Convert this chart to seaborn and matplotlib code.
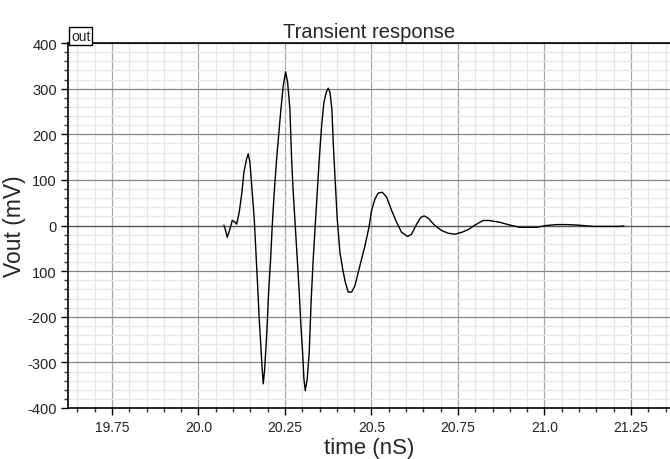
import numpy as np
import pandas as pd
import seaborn as sns
import matplotlib.pyplot as plt
from matplotlib.ticker import MultipleLocator, FixedLocator

# waveform (time in nS, Vout in mV)
time_ns = [20.0737, 20.0775, 20.0833, 20.0910, 20.0977, 20.1046, 20.1104, 20.1179,
           20.1257, 20.1315, 20.1393, 20.1439, 20.1488, 20.1555, 20.1613, 20.1662,
           20.1711, 20.1757, 20.1798, 20.1835, 20.1873, 20.1914, 20.1971, 20.2029,
           20.2087, 20.2133, 20.2191, 20.2260, 20.2318, 20.2384, 20.2451, 20.2520,
           20.2578, 20.2644, 20.2693, 20.2740, 20.2798, 20.2856, 20.2913, 20.2962,
           20.3011, 20.3049, 20.3087, 20.3145, 20.3202, 20.3260, 20.3318, 20.3376,
           20.3434, 20.3492, 20.3561, 20.3627, 20.3694, 20.3751, 20.3801, 20.3858,
           20.3896, 20.3945, 20.4012, 20.4090, 20.4168, 20.4244, 20.4329, 20.4428,
           20.4523, 20.4618, 20.4717, 20.4812, 20.4928, 20.5005, 20.5101, 20.5197,
           20.5312, 20.5439, 20.5584, 20.5728, 20.5873, 20.6046, 20.6162, 20.6306,
           20.6430, 20.6526, 20.6642, 20.6835, 20.7029, 20.7220, 20.7413, 20.7607,
           20.7798, 20.7991, 20.8231, 20.8400, 20.8710, 20.9000, 20.9290, 20.9770,
           21.0060, 21.0350, 21.0640, 21.0930, 21.1410, 21.1890, 21.2180, 21.2300]
vout_mv = [1, -8, -26, -8, 11, 8, 3, 29,
           73, 117, 146, 157, 139, 73, 14, -59,
           -132, -205, -256, -307, -347, -315, -242, -146,
           -73, 0, 73, 146, 197, 255, 306, 337,
           314, 255, 146, 73, 0, -73, -146, -220,
           -278, -336, -362, -336, -278, -161, -73, 0,
           73, 146, 219, 270, 292, 301, 292, 255,
           182, 109, 14, -59, -95, -124, -146, -146,
           -132, -103, -73, -45, -4, 33, 58, 71,
           73, 62, 33, 7, -15, -24, -19, 3,
           18, 21, 16, 0, -11, -17, -19, -15,
           -9, 1, 11, 11, 7, 1, -4, -4,
           0, 2, 2, 1, -2, -2, -2, -1]

y_ticks = [-400, -300, -200, -100, 0, 100, 200, 300, 400]
y_labels = ["-400", "-300", "-200", "100", "0", "100", "200", "300", "400"]
x_ticks = [19.75, 20.0, 20.25, 20.5, 20.75, 21.0, 21.25]
x_labels = ["19.75", "20.0", "20.25", "20.5", "20.75", "21.0", "21.25"]

df = pd.DataFrame({"t": time_ns, "v": vout_mv})

sns.set_style("white")
plt.rcParams['font.family'] = ['Liberation Sans', 'DejaVu Sans']

fig = plt.figure(figsize=(6.7, 4.6), dpi=100)
ax = fig.add_axes([68 / 670, 1 - 409 / 460, 1 - 68 / 670, (409 - 44) / 460])

ax.set_xlim(19.623, 21.363)
ax.set_ylim(-400, 400)

# grid: light minor, grey major, darker zero line
ax.xaxis.set_minor_locator(MultipleLocator(0.05))
ax.yaxis.set_minor_locator(MultipleLocator(20))
ax.grid(which="minor", color="#e6e6e6", lw=0.9, zorder=0)
ax.xaxis.set_major_locator(FixedLocator(x_ticks))
ax.yaxis.set_major_locator(FixedLocator(y_ticks))
ax.grid(which="major", axis="x", color="#a8a8a8", lw=0.9, zorder=0)
ax.grid(which="major", axis="y", color="#858585", lw=0.9, zorder=0)
ax.axhline(0, color="#555555", lw=0.9, zorder=1)
ax.set_axisbelow(True)

sns.lineplot(data=df, x="t", y="v", ax=ax, color="black", lw=1.0, zorder=3)

ax.set_xticks(x_ticks)
ax.set_xticklabels(x_labels)
ax.set_yticks(y_ticks)
ax.set_yticklabels(y_labels)
ax.tick_params(which="major", direction="out", length=5, width=1, color="black",
               labelsize=10, labelcolor="#222222", pad=4)
ax.tick_params(axis="y", which="major", labelsize=10.5, pad=3)
ax.tick_params(which="minor", direction="out", length=3, width=1, color="#333333")
ax.tick_params(axis="x", which="both", bottom=True)
ax.tick_params(axis="y", which="both", left=True)

for side in ["left", "bottom", "top"]:
    ax.spines[side].set_color("black")
    ax.spines[side].set_linewidth(1.2)
ax.spines["right"].set_visible(False)

ax.set_xlabel("time (nS)", fontsize=16, labelpad=2)
ax.set_ylabel("Vout (mV)", fontsize=16.5, labelpad=1)
ax.set_title("Transient response", fontsize=14.5, pad=4)

ax.text(0.005, 1.0, "out", transform=ax.transAxes, fontsize=10, ha="left", va="bottom",
        bbox=dict(boxstyle="square,pad=0.12", fc="white", ec="black", lw=1.0))

fig.savefig("out.png", dpi=100)
